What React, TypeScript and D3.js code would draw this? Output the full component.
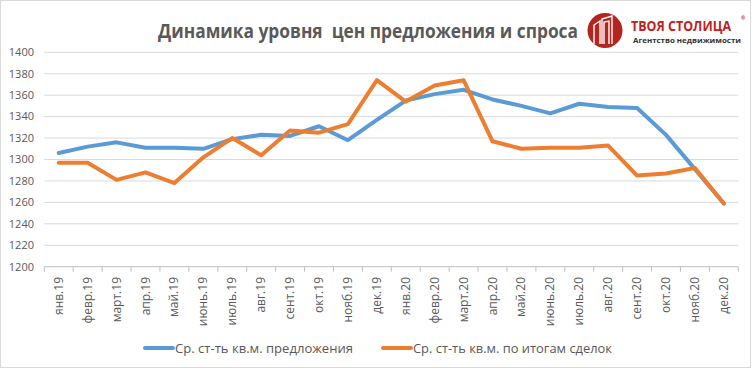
import React from "react";
import * as d3 from "d3";

const categories = [
  "янв.19","февр.19","март.19","апр.19","май.19","июнь.19","июль.19","авг.19","сент.19","окт.19","нояб.19","дек.19",
  "янв.20","февр.20","март.20","апр.20","май.20","июнь.20","июль.20","авг.20","сент.20","окт.20","нояб.20","дек.20",
];
const offerPrices = [1306,1312,1316,1311,1311,1310,1319,1323,1322,1331,1318,1337,1355,1361,1365,1356,1350,1343,1352,1349,1348,1323,1291,1259];
const dealPrices = [1297,1297,1281,1288,1278,1302,1320,1304,1327,1325,1333,1374,1354,1369,1374,1317,1310,1311,1311,1313,1285,1287,1292,1259];
const yTicks = [1200,1220,1240,1260,1280,1300,1320,1340,1360,1380,1400];
const seriesNames = ["Ср. ст-ть кв.м. предложения", "Ср. ст-ть кв.м. по итогам сделок"];
const seriesColors = ["#5b9bd5", "#ed7d31"];

const W = 753, H = 370;
const left = 44.3, right = 738.3, top = 52.3, bottom = 266.7;
const FONT = "'Open Sans', 'Noto Sans', sans-serif";

export default function App() {
  const x = d3.scaleBand<string>().domain(categories).range([left, right]);
  const y = d3.scaleLinear().domain([1200, 1400]).range([bottom, top]);
  const line = d3.line<number>()
    .x((_, i) => (x(categories[i]) as number) + x.bandwidth() / 2)
    .y((d) => y(d));
  const series = [offerPrices, dealPrices];

  return (
    <svg width={W} height={H} style={{ position: "absolute", left: 0, top: 0, background: "#fff" }}>
      <rect x={0.5} y={0.5} width={750} height={367} fill="#fff" stroke="#d9d9d9" />
      {/* title */}
      <text x={158} y={38} fontFamily={FONT} fontWeight="bold" fontSize={19} fill="#595959"
        style={{ whiteSpace: "pre" }}
        textLength={420} lengthAdjust="spacingAndGlyphs">Динамика уровня  цен предложения и спроса</text>
      {/* logo */}
      <g>
        <circle cx={605} cy={30.5} r={17.5} fill="#b5251f" />
        <path d="M594,44 L594,25 L600,21 L600,44 M602,44 L602,19 L612,16 L612,44 M604,44 L604,22 L609,21 L609,44"
          fill="none" stroke="#fff" strokeWidth={1.4} />
        <g transform="translate(631,31) scale(0.86,1)">
          <text x={0} y={0} fontFamily={FONT} fontWeight="bold" fontSize={14.5} fill="#c0211c">ТВОЯ СТОЛИЦА</text>
        </g>
        <text x={741} y={20} fontFamily={FONT} fontWeight="bold" fontSize={5} fill="#c0211c">®</text>
        <text x={633} y={43} fontFamily={FONT} fontWeight="bold" fontSize={7.5} fill="#333"
          textLength={108} lengthAdjust="spacingAndGlyphs">Агентство недвижимости</text>
      </g>
      {/* grid */}
      {yTicks.map((t) => (
        <g key={t}>
          {t !== 1200 && <line x1={left} x2={right} y1={y(t)} y2={y(t)} stroke="#d9d9d9" strokeWidth={1} />}
          <text x={34} y={y(t)} dy="0.35em" textAnchor="end" fontFamily={FONT} fontSize={11} fill="#595959">{t}</text>
        </g>
      ))}
      {/* x axis */}
      <line x1={left} x2={right} y1={bottom} y2={bottom} stroke="#bfbfbf" />
      {categories.concat([""]).map((_, i) => {
        const xx = left + i * x.step();
        return <line key={i} x1={xx} x2={xx} y1={bottom} y2={bottom + 5} stroke="#bfbfbf" />;
      })}
      {categories.map((c) => {
        const cx = (x(c) as number) + x.bandwidth() / 2;
        return (
          <text key={c} transform={`translate(${cx + 4},${277}) rotate(-90)`} textAnchor="end"
            fontFamily={FONT} fontSize={12} fill="#595959">{c}</text>
        );
      })}
      {/* lines */}
      {series.map((s, k) => (
        <path key={k} d={line(s) || ""} fill="none" stroke={seriesColors[k]} strokeWidth={4}
          strokeLinejoin="round" strokeLinecap="round" />
      ))}
      {/* legend */}
      {[{ x1: 145, tx: 175, w: 178 }, { x1: 383, tx: 413, w: 199 }].map((l, k) => (
        <g key={k}>
          <line x1={l.x1} x2={l.x1 + 28} y1={348} y2={348} stroke={seriesColors[k]} strokeWidth={4} strokeLinecap="round" />
          <text x={l.tx} y={348} dy="0.35em" fontFamily={FONT} fontSize={13} fill="#595959"
            textLength={l.w} lengthAdjust="spacingAndGlyphs">{seriesNames[k]}</text>
        </g>
      ))}
    </svg>
  );
}
